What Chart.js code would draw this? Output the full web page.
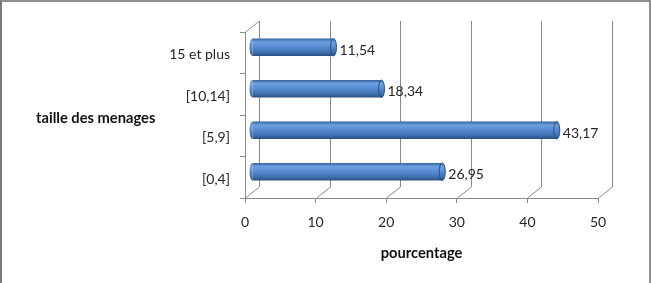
<!doctype html>
<html lang="fr">
<head>
    <meta charset="utf-8">
    <title>taille des menages</title>
    <style>
        body { margin: 0; background: #fff; }
        #wrap { position: relative; width: 651px; height: 283px; }
        #frame { position: absolute; left: 0; top: 0; width: 651px; height: 283px; box-sizing: border-box;
                 border-top: 2px solid #8f8f8f; border-left: 2px solid #7a7a7a; border-right: 2px solid #8f8f8f;
                 pointer-events: none; }
    </style>
</head>
<body>
    <div id="wrap">
        <canvas id="myChart"></canvas>
        <div id="frame"></div>
    </div>

    <script src="https://cdn.jsdelivr.net/npm/chart.js"></script>
    <script>
        // values
        var categories = ['[0,4]', '[5,9]', '[10,14]', '15 et plus'];
        var pourcentages = [26.95, 43.17, 18.34, 11.54];
        var xTicks = [0, 10, 20, 30, 40, 50];

        var FONT = 'Lato, "Open Sans", sans-serif';
        var DX = 14, DY = -11;          // depth of the back wall
        var BX = DX / 2, BY = DY / 2;   // bars sit half way in

        function frNum(v) {
            return v.toFixed(2).replace('.', ',');
        }

        function bodyGradient(ctx, yc, h) {
            var g = ctx.createLinearGradient(0, yc - h / 2, 0, yc + h / 2);
            g.addColorStop(0, '#34619a');
            g.addColorStop(0.2, '#6e9fe0');
            g.addColorStop(0.45, '#5a8ed3');
            g.addColorStop(0.8, '#3f70b0');
            g.addColorStop(1, '#28507f');
            return g;
        }

        // 3d walls, cylinder ends and value labels
        var walls = {
            id: 'walls',
            beforeDatasetsDraw: function (chart) {
                var ctx = chart.ctx, a = chart.chartArea, x = chart.scales.x;
                ctx.save();
                ctx.strokeStyle = '#8a8a8a';
                ctx.lineWidth = 1;
                ctx.beginPath();
                // back wall gridlines + floor diagonals
                xTicks.forEach(function (v) {
                    var px = Math.round(x.getPixelForValue(v)) + 0.5;
                    ctx.moveTo(px + DX, a.top + DY);
                    ctx.lineTo(px + DX, a.bottom + DY);
                    ctx.moveTo(px, a.bottom);
                    ctx.lineTo(px + DX, a.bottom + DY);
                });
                // side wall top edge
                var lx = Math.round(a.left) + 0.5;
                ctx.moveTo(lx, a.top);
                ctx.lineTo(lx + DX, a.top + DY);
                ctx.stroke();
                ctx.restore();

                ctx.save();
                ctx.translate(BX, BY);
            },
            afterDatasetsDraw: function (chart) {
                var ctx = chart.ctx;
                var meta = chart.getDatasetMeta(0);
                meta.data.forEach(function (bar) {
                    var h = bar.height, yc = bar.y;
                    // rounded start
                    ctx.beginPath();
                    ctx.ellipse(bar.base, yc, 3, h / 2, 0, Math.PI / 2, Math.PI * 1.5);
                    ctx.fillStyle = bodyGradient(ctx, yc, h);
                    ctx.fill();
                    // end cap
                    ctx.beginPath();
                    ctx.ellipse(bar.x, yc, 3, h / 2, 0, 0, Math.PI * 2);
                    ctx.fillStyle = bodyGradient(ctx, yc, h);
                    ctx.fill();
                    ctx.strokeStyle = '#2c4f7e';
                    ctx.lineWidth = 1;
                    ctx.stroke();
                });
                ctx.restore();

                ctx.save();
                ctx.font = '14px ' + FONT;
                ctx.fillStyle = '#262626';
                ctx.textBaseline = 'middle';
                ctx.textAlign = 'left';
                meta.data.forEach(function (bar, i) {
                    ctx.fillText(frNum(pourcentages[i]), bar.x + BX + 6, bar.y + BY + 3);
                });
                // horizontal title of the category axis
                ctx.font = 'bold 14.7px ' + FONT;
                ctx.fillStyle = '#111';
                ctx.fillText('taille des menages', 36, 118);
                ctx.restore();
            }
        };

        var barChart = new Chart('myChart', {
            type: 'bar',
            data: {
                labels: categories,
                datasets: [{
                    data: pourcentages,
                    backgroundColor: function (c) {
                        var chart = c.chart;
                        if (!chart.chartArea || !chart.scales.y) return '#4f81bd';
                        var yc = chart.scales.y.getPixelForValue(c.dataIndex);
                        var h = chart.scales.y.height / categories.length * 0.42;
                        return bodyGradient(chart.ctx, yc, h);
                    },
                    borderWidth: 0,
                    barPercentage: 0.42,
                    categoryPercentage: 1
                }]
            },
            plugins: [walls],
            options: {
                indexAxis: 'y',
                responsive: true,
                maintainAspectRatio: false,
                animation: false,
                layout: { padding: { left: 0, top: 32, right: 53, bottom: 0 } },
                plugins: {
                    legend: { display: false },
                    tooltip: { enabled: false }
                },
                scales: {
                    x: {
                        min: 0,
                        max: 50,
                        afterFit: function (s) { s.height = 85; },
                        afterBuildTicks: function (s) { s.ticks = xTicks.map(function (v) { return { value: v }; }); },
                        ticks: { color: '#262626', font: { family: FONT, size: 14 }, padding: 11, maxRotation: 0 },
                        grid: { drawOnChartArea: false, tickLength: 5, color: '#8a8a8a' },
                        border: { color: '#8a8a8a' },
                        title: {
                            display: true,
                            text: 'pourcentage',
                            color: '#111',
                            font: { family: FONT, size: 14.7, weight: 'bold' },
                            padding: { top: 0, bottom: 21 }
                        }
                    },
                    y: {
                        reverse: true,
                        afterFit: function (s) { s.width = 245; },
                        ticks: { color: '#262626', font: { family: FONT, size: 14 }, padding: 10, labelOffset: 2 },
                        grid: { drawOnChartArea: false, offset: true, tickLength: 5, color: '#8a8a8a' },
                        border: { color: '#8a8a8a' }
                    }
                }
            }
        });
    </script>
</body>
</html>
